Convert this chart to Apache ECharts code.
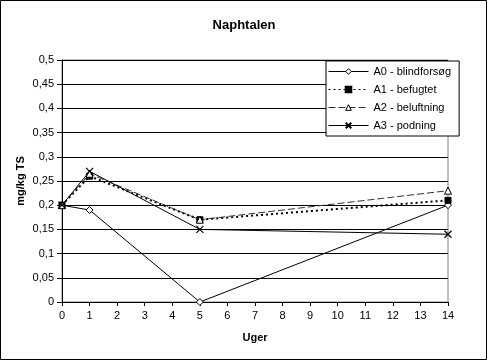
<!DOCTYPE html>
<html><head><meta charset="utf-8">
<script src="https://cdn.jsdelivr.net/npm/echarts@6/dist/echarts.min.js"></script>
<style>html,body{margin:0;padding:0;background:#fff}#c{width:488px;height:361px}</style>
</head><body><div id="c"></div>
<script>
const weeks = [0, 1, 5, 14];
const seriesNames = ['A0 - blindforsøg', 'A1 - befugtet', 'A2 - beluftning', 'A3 - podning'];
const a0 = [0.2, 0.19, 0.0, 0.2];
const a1 = [0.2, 0.26, 0.17, 0.21];
const a2 = [0.2, 0.265, 0.17, 0.23];
const a3 = [0.2, 0.27, 0.15, 0.14];
const font = 'Liberation Sans, Arial, sans-serif';
const pairs = v => weeks.map((w, i) => [w, v[i]]);
const chart = echarts.init(document.getElementById('c'), null, {renderer: 'canvas'});
const X = 'path://M0,0L10,10M10,0L0,10';
const hollow = {color: '#fff', borderColor: '#000', borderWidth: 1};
chart.setOption({
  animation: false,
  backgroundColor: '#fff',
  title: {text: 'Naphtalen', left: 'center', top: 14, textStyle: {fontFamily: font, fontSize: 13, fontWeight: 'bold', color: '#000'}},
  grid: {left: 62, right: 40, top: 60, bottom: 59, show: true, borderColor: '#808080', borderWidth: 1, backgroundColor: 'transparent'},
  legend: {
    orient: 'vertical', left: 326, top: 61, itemWidth: 40, itemHeight: 7, itemGap: 7,
    padding: [5, 8, 5, 2], borderColor: '#000', borderWidth: 1, backgroundColor: '#fff',
    lineStyle: {width: 1},
    textStyle: {fontFamily: font, fontSize: 11, color: '#000'},
    data: [
      {name: seriesNames[0], itemStyle: hollow},
      {name: seriesNames[1]},
      {name: seriesNames[2], itemStyle: hollow},
      {name: seriesNames[3]}
    ]
  },
  xAxis: {
    type: 'value', min: 0, max: 14, interval: 1,
    name: 'Uger', nameLocation: 'middle', nameGap: 30,
    nameTextStyle: {fontFamily: font, fontSize: 11, fontWeight: 'bold', color: '#000'},
    axisLine: {lineStyle: {color: '#000'}},
    axisTick: {show: true, inside: false, length: 4, lineStyle: {color: '#000'}},
    axisLabel: {fontFamily: font, fontSize: 11, color: '#000', margin: 8},
    splitLine: {show: false}
  },
  yAxis: {
    type: 'value', min: 0, max: 0.5, interval: 0.05,
    name: 'mg/kg TS', nameLocation: 'middle', nameGap: 36, nameRotate: 90, nameMoveOverlap: false,
    nameTextStyle: {fontFamily: font, fontSize: 11, fontWeight: 'bold', color: '#000'},
    axisLine: {show: true, lineStyle: {color: '#000'}},
    axisTick: {show: true, inside: false, length: 5, lineStyle: {color: '#000'}},
    axisLabel: {fontFamily: font, fontSize: 11, color: '#000', margin: 8,
      formatter: v => String(Math.round(v * 100) / 100).replace('.', ',')},
    splitLine: {show: true, lineStyle: {color: '#000', width: 1}}
  },
  series: [
    {name: seriesNames[0], type: 'line', data: pairs(a0), symbol: 'diamond', symbolSize: 7,
      lineStyle: {color: '#000', width: 1, type: 'solid'},
      itemStyle: hollow},
    {name: seriesNames[1], type: 'line', data: pairs(a1), symbol: 'rect', symbolSize: 6,
      lineStyle: {color: '#000', width: 2, type: [2, 3]},
      itemStyle: {color: '#000', borderColor: '#000', borderWidth: 1}},
    {name: seriesNames[2], type: 'line', data: pairs(a2), symbol: 'triangle', symbolSize: 7,
      lineStyle: {color: '#333', width: 1, type: [7, 3]},
      itemStyle: hollow},
    {name: seriesNames[3], type: 'line', data: pairs(a3), symbol: X, symbolSize: 7,
      lineStyle: {color: '#000', width: 1, type: 'solid'},
      itemStyle: {color: 'none', borderColor: '#000', borderWidth: 1.2}}
  ],
  graphic: [{type: 'rect', shape: {x: 0.5, y: 0.5, width: 486, height: 359}, style: {fill: 'none', stroke: '#000', lineWidth: 1}, silent: true}]
});
</script></body></html>
